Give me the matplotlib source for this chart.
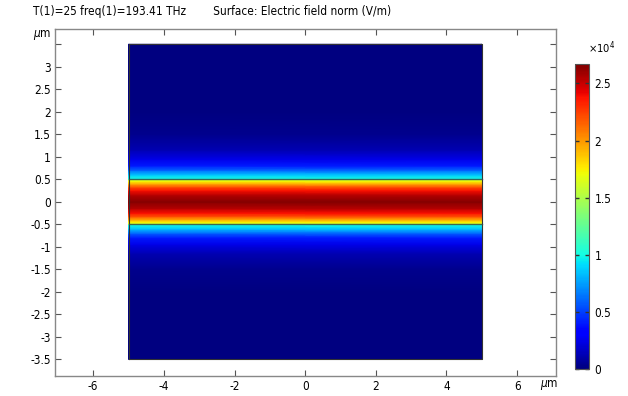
import numpy as np
import matplotlib
matplotlib.use("Agg")
import matplotlib.pyplot as plt

plt.rcParams["axes.unicode_minus"] = False
plt.rcParams["font.family"] = "DejaVu Sans"
plt.rcParams["font.stretch"] = "condensed"

# domain (um)
x_edges = [-5.0, 5.0]
# field norm profile across y (units of 1e4 V/m)
y_pos = [-3.5, -2.0, -1.5, -1.15, -0.95, -0.8, -0.7, -0.6, -0.51,
         -0.49, -0.45, -0.4, -0.33, -0.25, -0.15, 0.0,
         0.15, 0.25, 0.33, 0.4, 0.45, 0.49,
         0.51, 0.6, 0.7, 0.8, 0.95, 1.15, 1.5, 2.0, 3.5]
e_norm = [0.0, 0.01, 0.04, 0.12, 0.25, 0.4, 0.6, 0.85, 1.0,
          1.6, 1.75, 1.95, 2.2, 2.38, 2.54, 2.65,
          2.54, 2.38, 2.2, 1.95, 1.75, 1.6,
          1.0, 0.85, 0.6, 0.4, 0.25, 0.12, 0.04, 0.01, 0.0]
vmax = 2.67
cbar_ticks = [0, 0.5, 1, 1.5, 2, 2.5]
x_ticks = [-6, -4, -2, 0, 2, 4, 6]
y_ticks = [-3.5, -3, -2.5, -2, -1.5, -1, -0.5, 0, 0.5, 1, 1.5, 2, 2.5, 3, 3.5]

fig = plt.figure(figsize=(6.28, 3.96), dpi=100)
ax = fig.add_axes([0.0876, 0.0505, 0.7978, 0.8763])
cax = fig.add_axes([0.9156, 0.0682, 0.0223, 0.770])

X, Y = np.meshgrid(x_edges, y_pos)
Z = np.column_stack([e_norm, e_norm])
pc = ax.pcolormesh(X, Y, Z, cmap="jet", vmin=0, vmax=vmax, shading="gouraud")

# domain and core boundaries
ax.plot([-5, 5, 5, -5, -5], [-3.5, -3.5, 3.5, 3.5, -3.5], color="#333333", lw=0.8)
for yb in (-0.5, 0.5):
    ax.plot([-5, 5], [yb, yb], color="#2f4f4f", lw=1.0, alpha=0.85)

ax.set_xlim(-7.08, 7.10)
ax.set_ylim(-3.87, 3.84)
ax.set_xticks(x_ticks)
ax.set_yticks(y_ticks)
ax.set_yticklabels([("" if v == 3.5 else f"{v:g}") for v in y_ticks])
ax.tick_params(direction="in", length=4, width=0.8, color="#555555",
               top=True, right=True, labelsize=8.5, pad=3)
for s in ax.spines.values():
    s.set_color("#888888")
    s.set_linewidth(1.0)

fig.text(33 / 628, 1 - 35 / 396, r"$\mu$m", fontsize=8.5, va="center", ha="left")
fig.text(540 / 628, 1 - 385 / 396, r"$\mu$m", fontsize=8.5, va="center", ha="left")
fig.text(33 / 628, 1 - 12 / 396,
         "T(1)=25 freq(1)=193.41 THz        Surface: Electric field norm (V/m)",
         fontsize=8.5, va="center", ha="left")

cb = fig.colorbar(pc, cax=cax, ticks=cbar_ticks)
cb.ax.set_yticklabels([f"{v:g}" for v in cbar_ticks])
cb.ax.tick_params(direction="in", length=3, width=1.0, color="#333333",
                  labelsize=8.5, left=True, right=True, pad=4)
cb.outline.set_edgecolor("#555555")
cb.outline.set_linewidth(0.8)
fig.text(588 / 628, 1 - 48 / 396, r"$\times10^4$", fontsize=8, va="center", ha="left")

fig.savefig("out.png", dpi=100)
